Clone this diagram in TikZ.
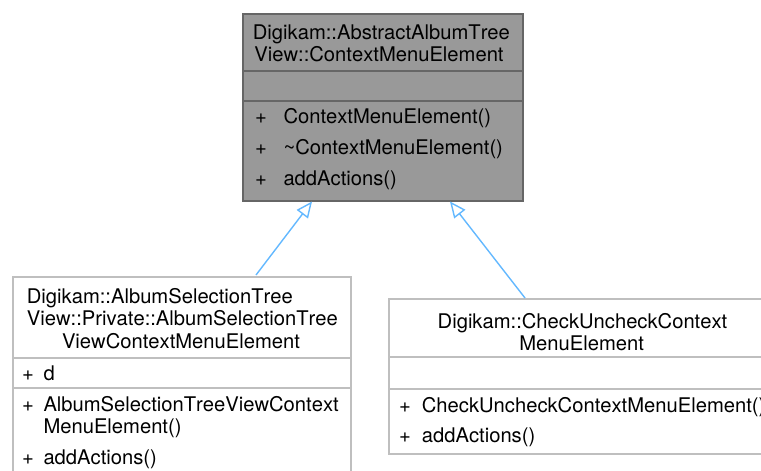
\documentclass[tikz,border=0pt]{standalone}
\usepackage{fontspec}
\setmainfont[Kerning=Off]{TeX Gyre Heros}
\usetikzlibrary{arrows.meta,calc}

\definecolor{basefill}{HTML}{999999}
\definecolor{basedraw}{HTML}{666666}
\definecolor{boxdraw}{HTML}{BFBFBF}
\definecolor{inheritblue}{HTML}{63B8FF}

\tikzset{
  classbox/.style={draw=boxdraw, fill=white, line width=1.5pt, anchor=north west, inner sep=0pt},
  basebox/.style={classbox, draw=basedraw, fill=basefill},
  member/.style={anchor=base west, inner sep=0pt, font=\fontsize{20.2}{23}\selectfont},
  title/.style={member, anchor=base},
  inheritance/.style={draw=inheritblue, line width=1.4pt, -{Triangle[open, length=16pt, width=14pt]}},
}

\begin{document}
\begin{tikzpicture}[x=1pt,y=-1pt]
\useasboundingbox (0,0) rectangle (761,471);
\clip (0,0) rectangle (761,471);

% base class
\node[basebox, minimum width=280pt, minimum height=187pt] (base) at (242,13) {};
\draw[basedraw, line width=1.5pt] (242,71) -- (522,71) (242,101) -- (522,101);
\node[member] (baseT1) at (252.7,39) {Digikam::AbstractAlbumTree};
\node[title] (baseT2) at (379,61) {View::ContextMenuElement};
\node[member] (baseP1) at (255,123) {+};
\node[member] (baseM1) at (283.3,123) {ContextMenuElement()};
\node[member] (baseP2) at (255,154) {+};
\node[member] (baseM2) at (283.3,154) {\char`\~ContextMenuElement()};
\node[member] (baseP3) at (255,185) {+};
\node[member] (baseM3) at (283.3,185) {addActions()};

% AlbumSelectionTreeView private element
\node[classbox, minimum width=338pt, minimum height=215pt] (sel) at (12,276) {};
\draw[boxdraw, line width=1.5pt] (12,358) -- (350,358) (12,388) -- (350,388);
\node[member] (selT1) at (26.7,303) {Digikam::AlbumSelectionTree};
\node[member] (selT2) at (26.7,325) {View::Private::AlbumSelectionTree};
\node[title] (selT3) at (181,348) {ViewContextMenuElement};
\node[member] (selP1) at (22,380) {+};
\node[member] (selA1) at (43.3,380) {d};
\node[member] (selP2) at (22,411.5) {+};
\node[member] (selM1) at (43.3,411.5) {AlbumSelectionTreeViewContext};
\node[member] (selM1b) at (43.3,433.5) {MenuElement()};
\node[member] (selP3) at (22,464) {+};
\node[member] (selM2) at (43.3,464) {addActions()};

% check / uncheck element
\node[classbox, minimum width=385pt, minimum height=155pt] (chk) at (388,298) {};
\draw[boxdraw, line width=1.5pt] (388,357) -- (773,357) (388,389) -- (773,389);
\node[title] (chkT1) at (582.5,328) {Digikam::CheckUncheckContext};
\node[title] (chkT2) at (581.7,350) {MenuElement};
\node[member] (chkP1) at (399,412) {+};
\node[member] (chkM1) at (421.7,412) {CheckUncheckContextMenuElement()};
\node[member] (chkP2) at (399,442) {+};
\node[member] (chkM2) at (421.7,442) {addActions()};

% inheritance
\coordinate (selFoot) at ($(sel.north west)+(244,-1)$);
\coordinate (selTip) at ($(base.south west)+(70,0)$);
\coordinate (chkFoot) at ($(chk.north west)+(137,0)$);
\coordinate (chkTip) at ($(base.south west)+(208,0)$);
\draw[inheritance] (selFoot) -- (selTip);
\draw[inheritance] (chkFoot) -- (chkTip);
\end{tikzpicture}
\end{document}
